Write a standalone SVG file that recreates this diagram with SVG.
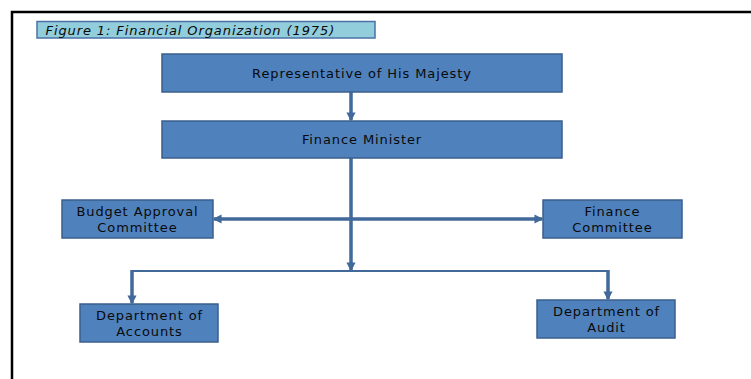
<svg xmlns="http://www.w3.org/2000/svg" width="751" height="379" viewBox="0 0 751 379">
<style>
.box{fill:#4F81BD;stroke:#3A5F8C;stroke-width:1.5}
.lbl{font-family:"DejaVu Sans","Open Sans",sans-serif;font-size:13px;letter-spacing:0.9px;fill:#0a0a0a;text-anchor:middle}
.thick{stroke:#41699A;stroke-width:3.5;fill:none}
.thin{stroke:#41699A;stroke-width:2;fill:none}
</style>
<defs>
<marker id="ah" viewBox="0 0 6 6" refX="5" refY="3" markerWidth="2.6" markerHeight="2.6" orient="auto" markerUnits="strokeWidth">
<path d="M0,0 L6,3 L0,6 z" fill="#41699A"/>
</marker>
</defs>
<rect width="751" height="379" fill="#ffffff"/>
<path d="M12,379 V12 H751" stroke="#000" stroke-width="2.5" fill="none"/>
<g id="title">
<rect x="37" y="21.5" width="338" height="16.5" fill="#92CDDC" stroke="#4A72A6" stroke-width="1.5"/>
<text x="45.5" y="34.5" font-family="'DejaVu Sans','Open Sans',sans-serif" font-size="13" letter-spacing="0.9" font-style="italic" fill="#0a0a0a">Figure 1: Financial Organization (1975)</text>
</g>
<g id="connectors">
<line class="thick" x1="351" y1="92" x2="351" y2="120" marker-end="url(#ah)"/>
<line class="thick" x1="351" y1="158" x2="351" y2="270" marker-end="url(#ah)"/>
<line class="thick" x1="351" y1="219" x2="214" y2="219" marker-end="url(#ah)"/>
<line class="thick" x1="351" y1="219" x2="542" y2="219" marker-end="url(#ah)"/>
<polyline class="thin" points="132,271 609,271"/>
<line class="thick" x1="132" y1="270" x2="132" y2="303" marker-end="url(#ah)"/>
<line class="thick" x1="608" y1="270" x2="608" y2="299" marker-end="url(#ah)"/>
</g>
<g id="rep">
<rect class="box" x="162" y="54" width="400" height="38"/>
<text class="lbl" x="362" y="78">Representative of His Majesty</text>
</g>
<g id="fm">
<rect class="box" x="162" y="121" width="400" height="37"/>
<text class="lbl" x="362" y="144">Finance Minister</text>
</g>
<g id="bac">
<rect class="box" x="62" y="200" width="151" height="38"/>
<text class="lbl" x="137.5" y="216">Budget Approval</text>
<text class="lbl" x="137.5" y="231.5">Committee</text>
</g>
<g id="fc">
<rect class="box" x="543" y="200" width="139" height="38"/>
<text class="lbl" x="612.5" y="216">Finance</text>
<text class="lbl" x="612.5" y="231.5">Committee</text>
</g>
<g id="doa">
<rect class="box" x="80" y="304" width="138" height="38"/>
<text class="lbl" x="149.5" y="320">Department of</text>
<text class="lbl" x="149.5" y="335.5">Accounts</text>
</g>
<g id="dau">
<rect class="box" x="537" y="300" width="138" height="38"/>
<text class="lbl" x="606.5" y="316">Department of</text>
<text class="lbl" x="606.5" y="331.5">Audit</text>
</g>
</svg>
